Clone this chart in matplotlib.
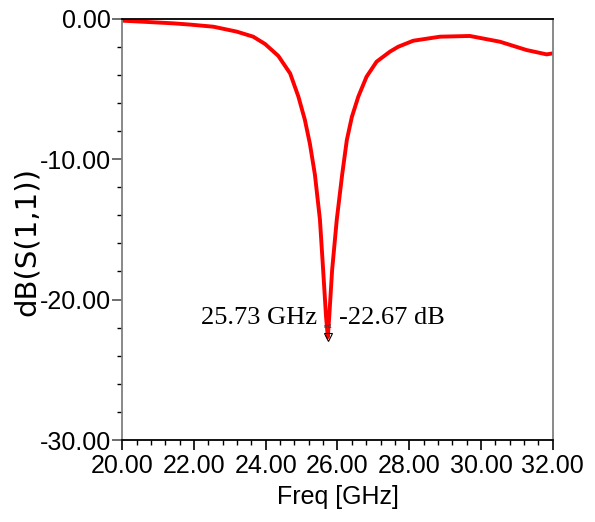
import matplotlib
matplotlib.use("Agg")
import matplotlib.pyplot as plt
from matplotlib.ticker import MultipleLocator, FormatStrFormatter

freq = [20.0, 20.68, 21.42, 21.89, 22.54, 23.19, 23.65, 23.98, 24.35, 24.68,
        24.91, 25.09, 25.23, 25.37, 25.51, 25.60, 25.68, 25.73, 25.77, 25.85,
        25.98, 26.13, 26.26, 26.40, 26.58, 26.81, 27.09, 27.46, 27.69, 28.11,
        28.86, 29.69, 30.53, 31.27, 31.83, 32.0]
s11 = [-0.14, -0.23, -0.33, -0.42, -0.57, -0.92, -1.28, -1.80, -2.65, -3.9,
       -5.55, -7.2, -8.9, -11.1, -14.3, -17.9, -21.2, -22.67, -21.2, -17.9,
       -14.3, -11.1, -8.64, -7.0, -5.55, -4.13, -3.06, -2.35, -2.0, -1.57,
       -1.28, -1.23, -1.64, -2.23, -2.54, -2.47]
marker_f = 25.73
marker_db = -22.67
xticks = [20, 22, 24, 26, 28, 30, 32]
yticks = [0, -10, -20, -30]

tickfont = ['Liberation Sans Narrow', 'Liberation Sans', 'DejaVu Sans']

fig = plt.figure(figsize=(5.95, 5.22), dpi=100)
ax = fig.add_axes([122.3/595, (522-440)/522, (552.7-122.3)/595, (440-18.7)/522])
ax.plot(freq, s11, color='#ff0000', lw=2.8, solid_joinstyle='round',
        solid_capstyle='round')
ax.plot([marker_f], [marker_db], marker='v', ms=6, mfc='none', mec='black', mew=0.8)
ax.text(marker_f, marker_db + 0.55, 'm1', fontsize=4, ha='center', va='bottom',
        color='#333333')
ax.text(25.42, -21.3, f'{marker_f:.2f} GHz', family='Liberation Serif', fontsize=19,
        ha='right', va='center')
ax.text(26.05, -21.3, f'{marker_db:.2f} dB', family='Liberation Serif', fontsize=19,
        ha='left', va='center')

ax.set_xlim(20, 32)
ax.set_ylim(-30, 0)
ax.set_xticks(xticks)
ax.set_yticks(yticks)
ax.xaxis.set_minor_locator(MultipleLocator(0.4))
ax.yaxis.set_minor_locator(MultipleLocator(2))
ax.xaxis.set_major_formatter(FormatStrFormatter('%.2f'))
ax.yaxis.set_major_formatter(FormatStrFormatter('%.2f'))
ax.tick_params(axis='both', which='major', direction='out', length=7, width=1.2,
               labelsize=18, pad=1)
ax.tick_params(axis='x', which='major', pad=3)
ax.tick_params(axis='both', which='minor', direction='out', length=3.5, width=1.0)
ax.tick_params(axis='y', colors='#555555', labelcolor='black')
for lab in ax.get_xticklabels() + ax.get_yticklabels():
    lab.set_family(tickfont)

ax.spines['left'].set_color('#808080')
ax.spines['right'].set_color('#808080')
ax.spines['top'].set_color('black')
ax.spines['bottom'].set_color('black')
for s in ax.spines.values():
    s.set_linewidth(1.3)

ax.set_xlabel('Freq [GHz]', family=tickfont, fontsize=18, labelpad=5)
ax.set_ylabel('dB(S(1,1))', family='DejaVu Sans', fontsize=21)
ax.yaxis.set_label_coords((41 - 122.3) / 430.4, (440 - 241) / 421.3)

fig.savefig('out.png', dpi=100)
